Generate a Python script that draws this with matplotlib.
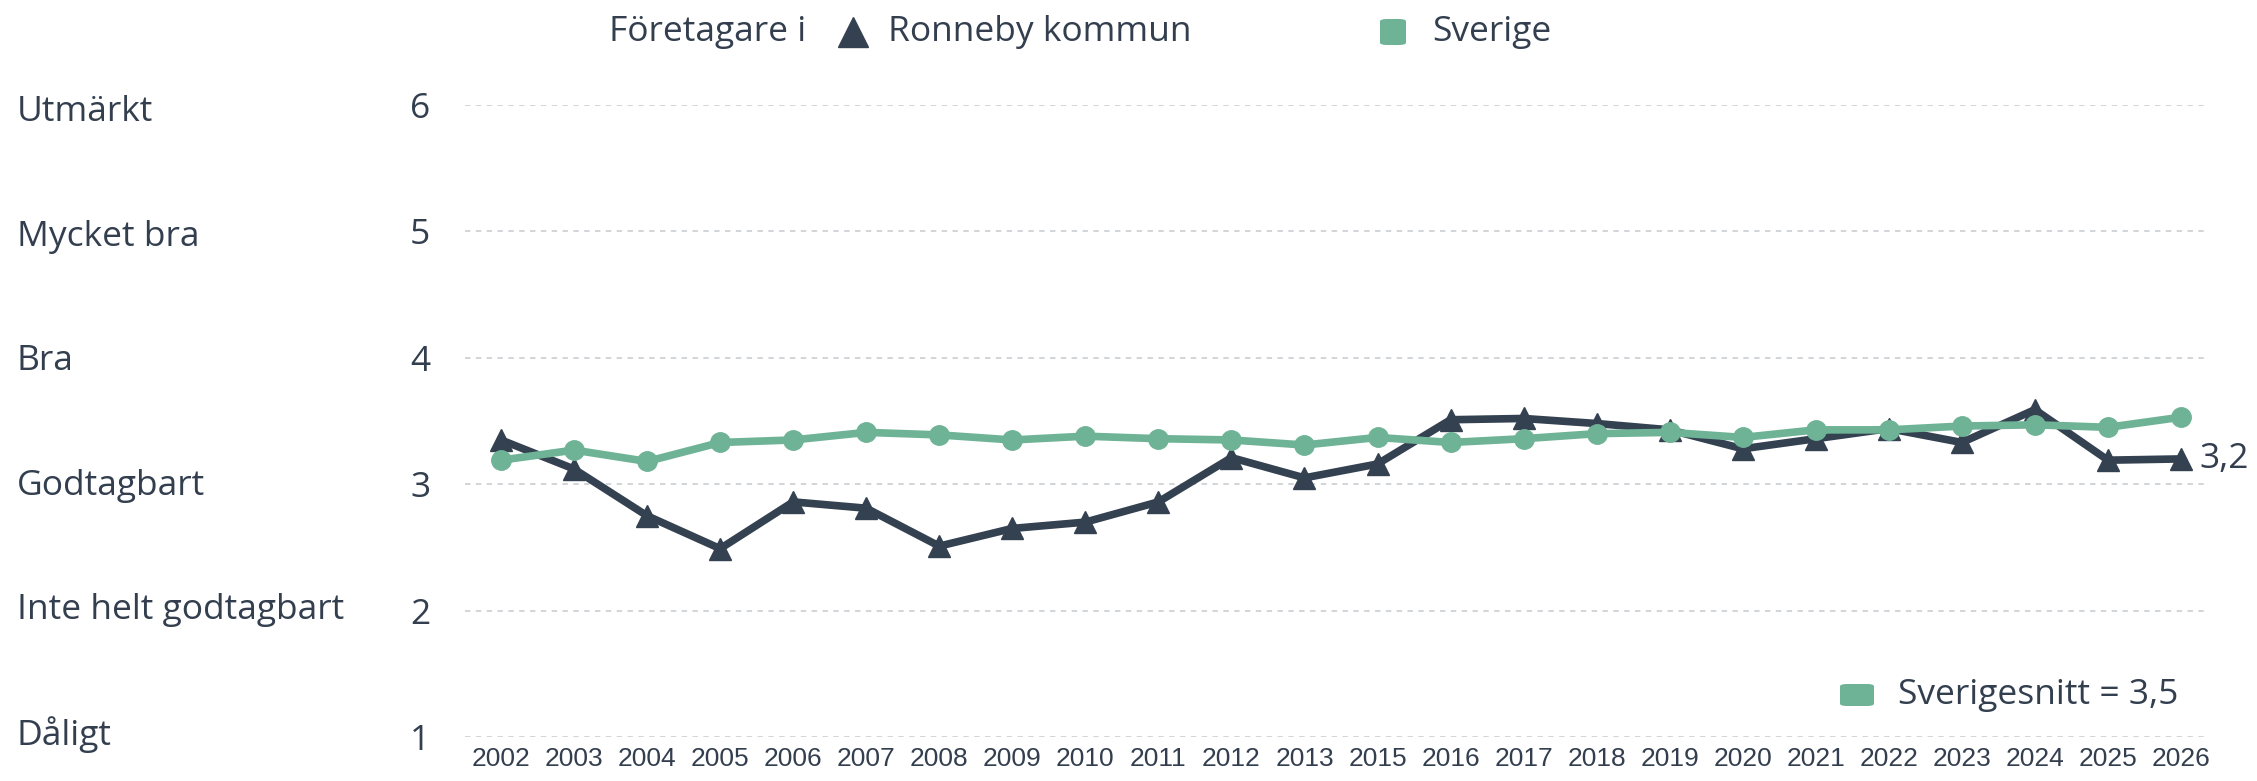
import matplotlib
matplotlib.use("Agg")
import matplotlib.pyplot as plt
import matplotlib.transforms as mtransforms
from matplotlib.patches import FancyBboxPatch
from matplotlib.lines import Line2D

years = ["2002", "2003", "2004", "2005", "2006", "2007", "2008", "2009", "2010", "2011",
         "2012", "2013", "2015", "2016", "2017", "2018", "2019", "2020", "2021", "2022",
         "2023", "2024", "2025", "2026"]
ronneby = [3.35, 3.12, 2.75, 2.49, 2.86, 2.81, 2.51, 2.65, 2.70, 2.86,
           3.21, 3.05, 3.16, 3.51, 3.52, 3.48, 3.43, 3.28, 3.36, 3.44,
           3.33, 3.59, 3.19, 3.20]
sverige = [3.19, 3.27, 3.18, 3.33, 3.35, 3.41, 3.39, 3.35, 3.38, 3.36,
           3.35, 3.31, 3.37, 3.33, 3.36, 3.40, 3.41, 3.37, 3.43, 3.43,
           3.46, 3.47, 3.45, 3.53]
y_ticks = [1, 2, 3, 4, 5, 6]
y_names = ["Dåligt", "Inte helt godtagbart", "Godtagbart", "Bra", "Mycket bra", "Utmärkt"]
last_label = "3,2"
avg_label = "Sverigesnitt = 3,5"

DARK = "#334150"
GREEN = "#6fb396"
TEXT = "#333f4f"
GRID = "#cfd2d6"
FONT = "Open Sans"
FS = 25.5

W, H = 2257, 781
fig = plt.figure(figsize=(W / 100, H / 100), dpi=100)
x0, x1 = 465, 2207
ytop, ybot = 105, 737
ax = fig.add_axes([x0 / W, (H - ybot) / H, (x1 - x0) / W, (ybot - ytop) / H])

xs = list(range(len(years)))
ax.plot(xs, ronneby, color=DARK, lw=5.5, marker="^", ms=16, zorder=3, clip_on=False)
ax.plot(xs, sverige, color=GREEN, lw=5.5, marker="o", ms=14, zorder=4, clip_on=False)

ax.set_xlim(-0.493, 23.356)
ax.set_ylim(1, 6)
ax.set_yticks(y_ticks)
ax.set_yticklabels([str(v) for v in y_ticks], fontsize=FS, color=TEXT, family=FONT)
ax.tick_params(axis="y", length=0, pad=25)
ax.set_xticks(xs)
ax.set_xticklabels(years, fontsize=19, color=TEXT, family="Liberation Sans")
ax.tick_params(axis="x", length=0, pad=7)
for s in ax.spines.values():
    s.set_visible(False)
ax.yaxis.grid(True, color=GRID, lw=1.3, ls=(0, (3, 3)))
ax.set_axisbelow(True)

# category names: evenly spaced from bottom (Dåligt) to top (Utmärkt)
top_px, bot_px = 112, 735
n = len(y_names)
for i, name in enumerate(y_names):
    ypx = bot_px - i * (bot_px - top_px) / (n - 1)
    fig.text(17 / W, 1 - ypx / H, name, fontsize=FS, color=TEXT,
             family=FONT, va="center", ha="left")

# end label
ax.annotate(last_label, (xs[-1], ronneby[-1]), xytext=(13, 0), textcoords="offset points",
            fontsize=FS, color=TEXT, family=FONT, va="center", ha="left",
            annotation_clip=False)

# top legend
ly = 1 - 32 / H
fig.text(609 / W, ly, "Företagare i", fontsize=FS, color=TEXT, family=FONT,
         va="center", ha="left")
fig.add_artist(Line2D([853 / W], [ly], marker="^", ms=21, color=DARK, lw=0,
                      transform=fig.transFigure))
fig.text(888 / W, ly, "Ronneby kommun", fontsize=FS, color=TEXT, family=FONT,
         va="center", ha="left")
sq = 26
fig.add_artist(FancyBboxPatch(((1393 - sq / 2) / W, (H - 32 - sq / 2) / H), sq / W, sq / H,
                              boxstyle="round,pad=0,rounding_size=0.003",
                              transform=fig.transFigure, color=GREEN, lw=0))
fig.text(1432 / W, ly, "Sverige", fontsize=FS, color=TEXT, family=FONT,
         va="center", ha="left")

# bottom legend (average)
by = 695
fig.add_artist(FancyBboxPatch(((1857 - 17) / W, (H - by - 11) / H), 34 / W, 22 / H,
                              boxstyle="round,pad=0,rounding_size=0.003",
                              transform=fig.transFigure, color=GREEN, lw=0))
fig.text(1898 / W, 1 - by / H, avg_label, fontsize=FS, color=TEXT, family=FONT,
         va="center", ha="left")

fig.savefig("out.png", dpi=100, facecolor="white")
